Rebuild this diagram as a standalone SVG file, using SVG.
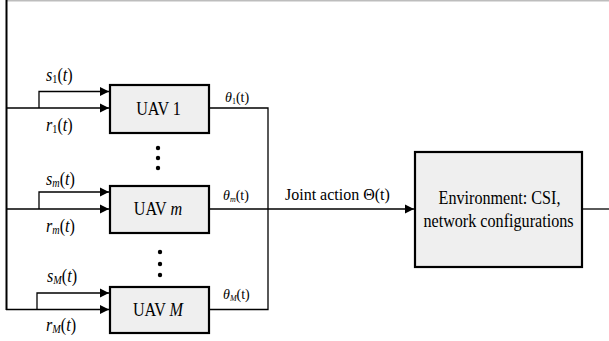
<svg xmlns="http://www.w3.org/2000/svg" width="609" height="341" viewBox="0 0 609 341" font-family="Liberation Serif, Times New Roman, serif">
<style>
.ln{fill:none;stroke:#000;stroke-width:1.3}
.box{fill:#efefef;stroke:#000;stroke-width:2.2}
.t{font-size:19px;fill:#000}
.j{font-size:16px;fill:#000}
.i{font-style:italic}
.sub{font-size:12px}
.th{font-size:14px;fill:#000}
.ths{font-size:8px}
</style>
<defs>
<marker id="ar" markerWidth="10" markerHeight="10" refX="9" refY="5" orient="auto" markerUnits="userSpaceOnUse">
<path d="M0,0.5 L9,5 L0,9.5 Z" fill="#000"/>
</marker>
</defs>
<rect width="609" height="341" fill="#fff"/>
<g id="connectors">
<line x1="7" y1="0.8" x2="609" y2="0.8" stroke="#bdbdbd" stroke-width="1.5"/>
<line class="ln" x1="6.5" y1="0" x2="6.5" y2="310" style="stroke-width:2"/>
<path class="ln" d="M6,108 H109" marker-end="url(#ar)"/>
<path class="ln" d="M39,108 V91.5 H109" marker-end="url(#ar)"/>
<path class="ln" d="M6,209 H109" marker-end="url(#ar)"/>
<path class="ln" d="M39,209 V192 H109" marker-end="url(#ar)"/>
<path class="ln" d="M6,309.5 H109" marker-end="url(#ar)"/>
<path class="ln" d="M37,309.5 V293 H109" marker-end="url(#ar)"/>
<path class="ln" d="M209,108 H268 V309.5 H209"/>
<path class="ln" d="M209,209 H414" marker-end="url(#ar)"/>
<line class="ln" x1="582" y1="209" x2="609" y2="209"/>
</g>
<g id="uav1">
<rect class="box" x="110" y="85" width="99" height="48"/>
<text class="t" transform="matrix(0.85 0 0 1 158.5 115)" text-anchor="middle">UAV 1</text>
</g>
<g id="uavm">
<rect class="box" x="110" y="186" width="99" height="47"/>
<text class="t" transform="matrix(0.85 0 0 1 158 215)" text-anchor="middle">UAV <tspan class="i">m</tspan></text>
</g>
<g id="uavM">
<rect class="box" x="110" y="287" width="99" height="46"/>
<text class="t" transform="matrix(0.85 0 0 1 158 316)" text-anchor="middle">UAV <tspan class="i">M</tspan></text>
</g>
<g id="env">
<rect class="box" x="415" y="152" width="167" height="115"/>
<text class="t" transform="matrix(0.85 0 0 1 499.5 204)" text-anchor="middle">Environment: CSI,</text>
<text class="t" transform="matrix(0.85 0 0 1 498.5 227)" text-anchor="middle">network configurations</text>
</g>
<g id="dots">
<circle cx="158" cy="148" r="2.2"/><circle cx="158" cy="158" r="2.2"/><circle cx="158" cy="168" r="2.2"/>
<circle cx="160" cy="252" r="2.2"/><circle cx="160" cy="264" r="2.2"/><circle cx="160" cy="275" r="2.2"/>
</g>
<g id="labels">
<text class="t" transform="matrix(0.85 0 0 1 46 81)"><tspan class="i">s</tspan><tspan class="sub" dy="2">1</tspan><tspan dy="-2">(</tspan><tspan class="i">t</tspan>)</text>
<text class="t" transform="matrix(0.85 0 0 1 46 131)"><tspan class="i">r</tspan><tspan class="sub" dy="2">1</tspan><tspan dy="-2">(</tspan><tspan class="i">t</tspan>)</text>
<text class="t" transform="matrix(0.85 0 0 1 46 185)"><tspan class="i">s</tspan><tspan class="sub i" dy="2">m</tspan><tspan dy="-2">(</tspan><tspan class="i">t</tspan>)</text>
<text class="t" transform="matrix(0.85 0 0 1 46 232)"><tspan class="i">r</tspan><tspan class="sub i" dy="2">m</tspan><tspan dy="-2">(</tspan><tspan class="i">t</tspan>)</text>
<text class="t" transform="matrix(0.85 0 0 1 47 282)"><tspan class="i">s</tspan><tspan class="sub i" dy="2">M</tspan><tspan dy="-2">(</tspan><tspan class="i">t</tspan>)</text>
<text class="t" transform="matrix(0.85 0 0 1 46 331)"><tspan class="i">r</tspan><tspan class="sub i" dy="2">M</tspan><tspan dy="-2">(</tspan><tspan class="i">t</tspan>)</text>
<text class="th" x="225" y="102"><tspan class="i">θ</tspan><tspan class="ths" dy="2">1</tspan><tspan dy="-2">(t)</tspan></text>
<text class="th" x="223" y="200"><tspan class="i">θ</tspan><tspan class="ths i" dy="2">m</tspan><tspan dy="-2">(t)</tspan></text>
<text class="th" x="223" y="299"><tspan class="i">θ</tspan><tspan class="ths i" dy="2">M</tspan><tspan dy="-2">(t)</tspan></text>
<text class="j" x="285" y="200">Joint action Θ(t)</text>
</g>
</svg>
